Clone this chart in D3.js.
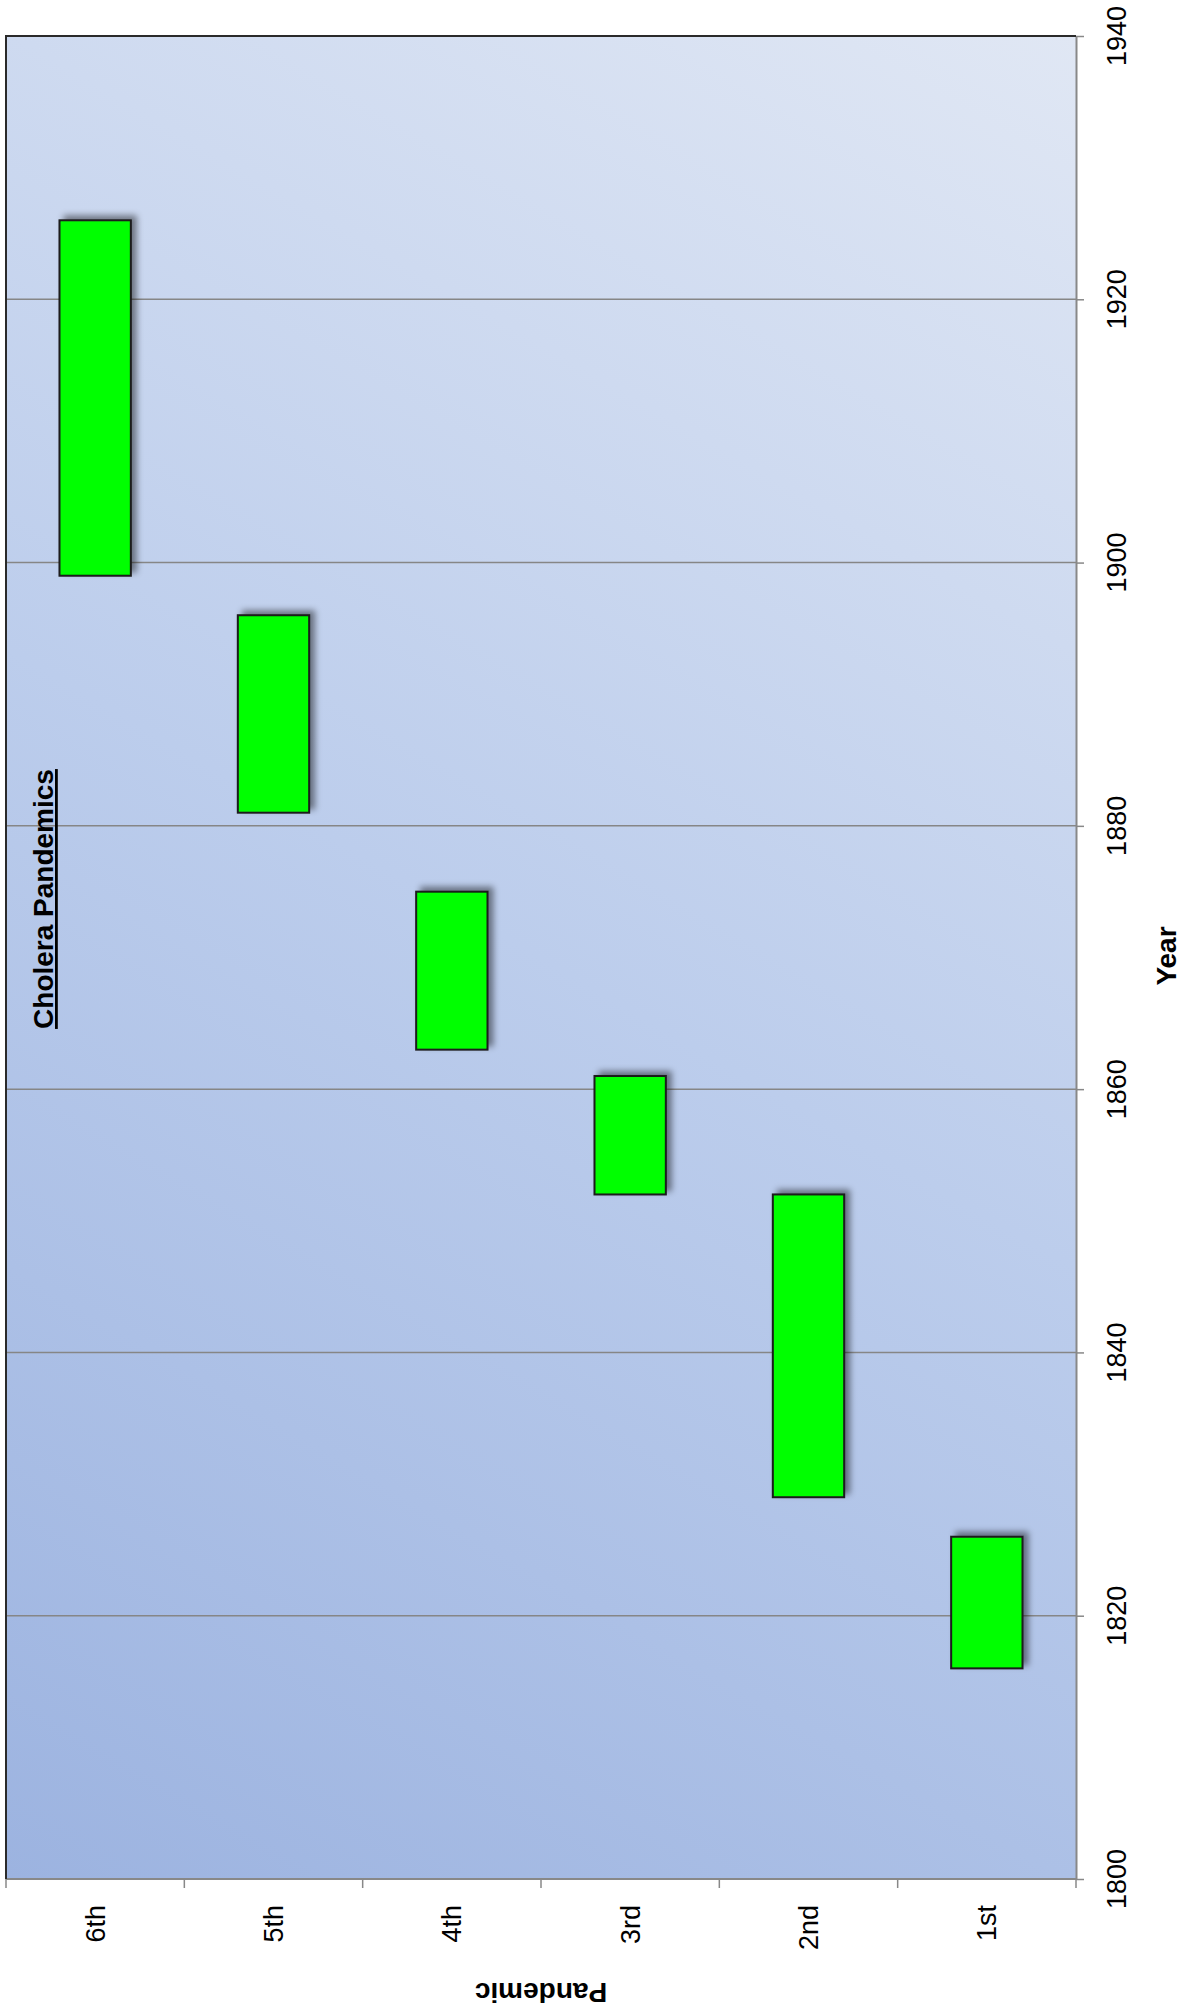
<!DOCTYPE html>
<meta charset="utf-8" />
<script src="https://d3js.org/d3.v7.min.js"></script>
<style>
  html, body { margin: 0; padding: 0; background: #fff; overflow: hidden; }
  text { font-family: "Liberation Sans", Arial, sans-serif; fill: #000; }
</style>
<div id="chart"></div>
<script>
  var width = 1183;
  var height = 2013;

  // data
  var pandemics = ["6th", "5th", "4th", "3rd", "2nd", "1st"];
  var startYears = [1899, 1881, 1863, 1852, 1829, 1816];
  var endYears = [1926, 1896, 1875, 1861, 1852, 1826];
  var yearTicks = [1800, 1820, 1840, 1860, 1880, 1900, 1920, 1940];

  var rows = pandemics.map(function(p, i) {
    return { name: p, start: startYears[i], end: endYears[i] };
  });

  // plot box (note: "top" is reserved on window, so use other names)
  var plotLeft = 6, plotRight = 1076, plotTop = 36, plotBottom = 1879;

  var svg = d3.select("#chart").append("svg")
    .attr("width", width)
    .attr("height", height);

  var defs = svg.append("defs");
  var grad = defs.append("linearGradient")
    .attr("id", "bg")
    .attr("gradientUnits", "userSpaceOnUse")
    .attr("x1", plotLeft).attr("y1", plotBottom)
    .attr("x2", plotRight).attr("y2", plotTop);
  grad.append("stop").attr("offset", 0).attr("stop-color", "#9cb3e0");
  grad.append("stop").attr("offset", 0.5).attr("stop-color", "#bccdec");
  grad.append("stop").attr("offset", 1).attr("stop-color", "#e0e7f4");

  var shadow = defs.append("filter").attr("id", "shadow")
    .attr("x", "-30%").attr("y", "-30%").attr("width", "160%").attr("height", "160%");
  shadow.append("feDropShadow")
    .attr("dx", 5).attr("dy", -4)
    .attr("stdDeviation", 3)
    .attr("flood-color", "#000")
    .attr("flood-opacity", 0.45);

  var x = d3.scaleBand()
    .domain(pandemics)
    .range([plotLeft, plotRight])
    .paddingInner(0.6)
    .paddingOuter(0.3);

  var y = d3.scaleLinear()
    .domain([1800, 1940])
    .range([plotBottom, plotTop]);

  // plot background
  svg.append("rect")
    .attr("x", plotLeft).attr("y", plotTop)
    .attr("width", plotRight - plotLeft).attr("height", plotBottom - plotTop)
    .attr("fill", "url(#bg)");

  // gridlines
  svg.append("g").selectAll("line")
    .data(yearTicks.filter(function(d) { return d > 1800 && d < 1940; }))
    .enter().append("line")
    .attr("x1", plotLeft).attr("x2", plotRight)
    .attr("y1", function(d) { return y(d); })
    .attr("y2", function(d) { return y(d); })
    .attr("stroke", "#868686")
    .attr("stroke-width", 1.5);

  // year axis on the right
  var yAxis = svg.append("g")
    .attr("transform", "translate(" + plotRight + ",0)")
    .call(d3.axisRight(y).tickValues(yearTicks).tickSize(8).tickSizeOuter(0).tickFormat(""));
  yAxis.select(".domain").attr("stroke", "#888").attr("stroke-width", 2);
  yAxis.selectAll(".tick line").attr("stroke", "#888").attr("stroke-width", 1.5);

  svg.append("g").selectAll("text")
    .data(yearTicks)
    .enter().append("text")
    .attr("transform", function(d) { return "translate(1117," + y(d) + ") rotate(-90)"; })
    .attr("text-anchor", "middle")
    .attr("dy", "0.35em")
    .style("font-size", "27px")
    .text(function(d) { return d; });

  // category axis at the bottom, ticks between the bands
  var step = x.step();
  var bounds = d3.range(pandemics.length + 1).map(function(i) { return plotLeft + i * step; });
  svg.append("line")
    .attr("x1", plotLeft).attr("x2", plotRight)
    .attr("y1", plotBottom).attr("y2", plotBottom)
    .attr("stroke", "#888").attr("stroke-width", 2);
  svg.append("g").selectAll("line")
    .data(bounds)
    .enter().append("line")
    .attr("x1", function(d) { return d; })
    .attr("x2", function(d) { return d; })
    .attr("y1", plotBottom).attr("y2", plotBottom + 9)
    .attr("stroke", "#888").attr("stroke-width", 1.5);

  svg.append("g").selectAll("text")
    .data(pandemics)
    .enter().append("text")
    .attr("transform", function(d) {
      return "translate(" + (x(d) + x.bandwidth() / 2) + ",1905) rotate(-90)";
    })
    .attr("text-anchor", "end")
    .attr("dy", "0.35em")
    .style("font-size", "27px")
    .text(function(d) { return d; });

  // dark frame on left and top
  svg.append("path")
    .attr("d", "M" + plotLeft + "," + plotBottom + "V" + plotTop + "H" + plotRight)
    .attr("fill", "none")
    .attr("stroke", "#2a2a2a")
    .attr("stroke-width", 2);

  // bars
  svg.append("g").selectAll("rect")
    .data(rows)
    .enter().append("rect")
    .attr("x", function(d) { return x(d.name); })
    .attr("width", x.bandwidth())
    .attr("y", function(d) { return y(d.end); })
    .attr("height", function(d) { return y(d.start) - y(d.end); })
    .attr("fill", "#00ff00")
    .attr("stroke", "#1a1a1a")
    .attr("stroke-width", 2)
    .attr("filter", "url(#shadow)");

  // titles
  svg.append("text")
    .attr("transform", "translate(53,899) rotate(-90)")
    .attr("text-anchor", "middle")
    .style("font-size", "28px")
    .style("font-weight", "bold")
    .style("text-decoration", "underline")
    .text("Cholera Pandemics");

  svg.append("text")
    .attr("transform", "translate(1166,956) rotate(-90)")
    .attr("text-anchor", "middle")
    .attr("dy", "0.35em")
    .style("font-size", "28px")
    .style("font-weight", "bold")
    .text("Year");

  svg.append("text")
    .attr("transform", "translate(541,1993) rotate(180)")
    .attr("text-anchor", "middle")
    .attr("dy", "0.35em")
    .style("font-size", "28px")
    .style("font-weight", "bold")
    .text("Pandemic");
</script>
